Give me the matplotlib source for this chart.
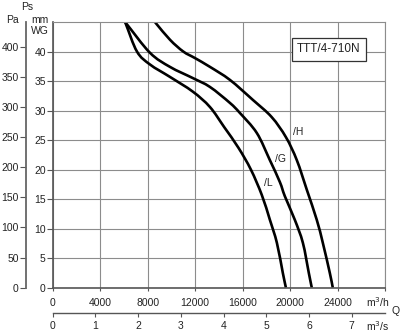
import numpy as np
import matplotlib
matplotlib.use("Agg")
from matplotlib import pyplot as plt
from matplotlib.path import Path
from matplotlib.patches import PathPatch

plt.rcParams['font.family'] = ['Liberation Sans', 'DejaVu Sans']

# fan curves: airflow in m3/h, static pressure in mm WG
q_L = [6100, 7100, 8200, 9880, 11810, 13250, 14450, 15650, 16700, 17620, 18300, 18890, 19390, 19650]
p_L = [45.0, 40.0, 37.8, 35.7, 33.2, 30.6, 27.2, 23.7, 20.0, 15.7, 11.5, 7.6, 2.5, 0.0]

q_G = [6100, 8190, 9880, 11810, 13250, 14930, 15770, 17200, 18300, 19140, 19560, 20400, 21080, 21580, 21830]
p_G = [45.0, 39.8, 37.4, 35.5, 34.0, 31.3, 29.6, 26.2, 21.6, 17.9, 15.5, 11.5, 7.6, 2.5, 0.0]

q_H = [8610, 9880, 11000, 11980, 13250, 14930, 16870, 18450, 19650, 20570, 21410, 22250, 22760, 23350, 23600]
p_H = [45.0, 42.0, 40.0, 38.9, 37.4, 35.2, 31.8, 28.9, 25.5, 21.6, 16.6, 11.5, 7.6, 2.5, 0.0]

x_ticks = [0, 4000, 8000, 12000, 16000, 20000, 24000]
mm_ticks = [0, 5, 10, 15, 20, 25, 30, 35, 40]
pa_ticks = [0, 50, 100, 150, 200, 250, 300, 350, 400]
ms_ticks = [0, 1, 2, 3, 4, 5, 6, 7]

W, H = 400, 334
txt = '#222222'
grid_c = '#8c8c8c'

def fx(x):
    return x / W

def fy(y):
    return 1 - y / H

# smooth line through the read points (Catmull-Rom drawn as bezier path)
def smooth_path(xs, ys):
    pts = np.column_stack([xs, ys]).astype(float)
    ext = np.vstack([2 * pts[0] - pts[1], pts, 2 * pts[-1] - pts[-2]])
    verts = [pts[0]]
    codes = [Path.MOVETO]
    for i in range(1, len(ext) - 2):
        p0, p1, p2, p3 = ext[i - 1], ext[i], ext[i + 1], ext[i + 2]
        verts += [p1 + (p2 - p0) / 6, p2 - (p3 - p1) / 6, p2]
        codes += [Path.CURVE4] * 3
    return Path(verts, codes)

fig = plt.figure(figsize=(4.0, 3.34), dpi=100)
ax = fig.add_axes([fx(52.7), fy(287.7), (385 - 52.7) / W, (287.7 - 22) / H])

ax.set_xlim(0, 28000)
ax.set_ylim(0, 45)
ax.set_yticks(mm_ticks)
ax.set_xticks(np.arange(0, 28001, 4000))
ax.set_xticklabels([str(v) for v in x_ticks] + [''])
ax.grid(True, color=grid_c, lw=0.8)
ax.set_axisbelow(True)
for s in ['top', 'right']:
    ax.spines[s].set_color(grid_c)
    ax.spines[s].set_linewidth(0.8)
for s in ['left', 'bottom']:
    ax.spines[s].set_color('#555555')
    ax.spines[s].set_linewidth(1.2)
ax.tick_params(axis='x', length=2.5, width=0.8, pad=5, labelsize=7.5, colors='#555555', labelcolor=txt)
ax.tick_params(axis='y', length=4, width=0.8, pad=1, labelsize=7.5, colors='#555555', labelcolor=txt)

for q, p in [(q_L, p_L), (q_G, p_G), (q_H, p_H)]:
    ax.add_patch(PathPatch(smooth_path(q, p), fill=False, ec='black', lw=1.9, capstyle='butt'))

fig.text(fx(328.7), fy(49.2), 'TTT/4-710N', fontsize=8.5, color=txt, ha='center', va='center',
         bbox=dict(boxstyle='square,pad=0.45', fc='white', ec='#333333', lw=0.9), zorder=5)

fig.text(fx(293), fy(132), '/H', fontsize=7.5, color=txt, va='center')
fig.text(fx(275), fy(159), '/G', fontsize=7.5, color=txt, va='center')
fig.text(fx(264), fy(183), '/L', fontsize=7.5, color=txt, va='center')

# Pa scale on the far left
ax_pa = ax.twinx()
ax_pa.set_ylim(0, 45 * 9.80665)
ax_pa.set_yticks(pa_ticks)
for s in ['top', 'right', 'bottom']:
    ax_pa.spines[s].set_visible(False)
ax_pa.spines['left'].set_visible(True)
ax_pa.spines['left'].set_position(('outward', 27 * 0.72))
ax_pa.spines['left'].set_color('#666666')
ax_pa.spines['left'].set_linewidth(1.3)
ax_pa.yaxis.tick_left()
ax_pa.tick_params(axis='y', length=4, width=0.8, pad=1, labelsize=7.5, colors='#555555', labelcolor=txt)

# m3/s scale below
ax_q = ax.twiny()
ax_q.set_xlim(0, 28000 / 3600)
ax_q.set_xticks(ms_ticks)
for s in ['top', 'right', 'left']:
    ax_q.spines[s].set_visible(False)
ax_q.spines['bottom'].set_visible(True)
ax_q.spines['bottom'].set_position(('outward', 25 * 0.72))
ax_q.spines['bottom'].set_color('#555555')
ax_q.spines['bottom'].set_linewidth(1.0)
ax_q.xaxis.tick_bottom()
ax_q.tick_params(axis='x', length=3, width=0.8, pad=3, labelsize=7.5, colors='#555555', labelcolor=txt)

fig.text(fx(21), fy(7), 'Ps', fontsize=7.5, color=txt, va='center')
fig.text(fx(6), fy(20), 'Pa', fontsize=7.5, color=txt, va='center')
fig.text(fx(31), fy(20), 'mm', fontsize=7.5, color=txt, va='center')
fig.text(fx(31), fy(31), 'WG', fontsize=7.5, color=txt, va='center')
fig.text(fx(366), fy(302), 'm$^3$/h', fontsize=7.5, color=txt, va='center')
fig.text(fx(366), fy(326), 'm$^3$/s', fontsize=7.5, color=txt, va='center')
fig.text(fx(392), fy(311), 'Q', fontsize=7.5, color=txt, va='center')

fig.savefig('out.png', dpi=100)
